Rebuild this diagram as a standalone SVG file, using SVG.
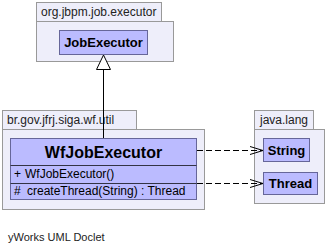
<svg xmlns="http://www.w3.org/2000/svg" width="330" height="249" viewBox="0 0 330 249">
  <style>
    .pkg { fill: #eeeefa; stroke: #999999; stroke-width: 1; }
    .cls { fill: #bbbbff; stroke: #666699; stroke-width: 1; }
    .sep { stroke: #333344; stroke-width: 1; }
    .ptxt { font-family: "Liberation Sans", Arial, sans-serif; font-size: 12px; fill: #222222; }
    .cname { font-family: "Liberation Sans", Arial, sans-serif; font-size: 13px; font-weight: bold; fill: #000000; text-anchor: middle; }
    .big { font-size: 16px; }
    .op { font-family: "Liberation Sans", Arial, sans-serif; font-size: 12px; fill: #000000; }
    .dep { fill: none; stroke: #000000; stroke-width: 1; stroke-dasharray: 6 3; }
    .head { fill: none; stroke: #000000; stroke-width: 1; }
  </style>

  <!-- package org.jbpm.job.executor -->
  <g id="pkg-org-jbpm-job-executor">
    <rect class="pkg" x="36.5" y="2.5" width="125" height="19"/>
    <rect class="pkg" x="36.5" y="21.5" width="137" height="40"/>
    <text class="ptxt" x="41" y="16">org.jbpm.job.executor</text>
  </g>
  <g id="JobExecutor">
    <rect class="cls" x="59.5" y="30.5" width="88" height="24"/>
    <text class="cname" x="103.5" y="47">JobExecutor</text>
  </g>

  <!-- package br.gov.jfrj.siga.wf.util -->
  <g id="pkg-br-gov-jfrj-siga-wf-util">
    <rect class="pkg" x="2.5" y="110.5" width="134" height="19"/>
    <rect class="pkg" x="2.5" y="129.5" width="202" height="80"/>
    <text class="ptxt" x="7" y="124">br.gov.jfrj.siga.wf.util</text>
  </g>
  <g id="WfJobExecutor">
    <rect class="cls" x="10.5" y="138.5" width="186" height="61"/>
    <line class="sep" x1="10.5" y1="165.5" x2="196.5" y2="165.5"/>
    <line class="sep" x1="10.5" y1="183.5" x2="196.5" y2="183.5"/>
    <text class="cname big" x="103.5" y="158">WfJobExecutor</text>
    <text class="op" x="14" y="178">+</text>
    <text class="op" x="25" y="178">WfJobExecutor()</text>
    <text class="op" x="14" y="195">#</text>
    <text class="op" x="27" y="195">createThread(String) : Thread</text>
  </g>

  <!-- package java.lang -->
  <g id="pkg-java-lang">
    <rect class="pkg" x="254.5" y="110.5" width="59" height="19"/>
    <rect class="pkg" x="254.5" y="129.5" width="70" height="74"/>
    <text class="ptxt" x="260" y="124">java.lang</text>
  </g>
  <g id="String">
    <rect class="cls" x="263.5" y="138.5" width="46" height="23"/>
    <text class="cname" x="286.5" y="155">String</text>
  </g>
  <g id="Thread">
    <rect class="cls" x="263.5" y="172.5" width="54" height="22"/>
    <text class="cname" x="290.5" y="188">Thread</text>
  </g>

  <!-- connectors -->
  <g id="connectors">
    <!-- generalization WfJobExecutor -> JobExecutor -->
    <line class="head" x1="103.5" y1="69.5" x2="103.5" y2="138"/>
    <polygon points="103.5,55 96.5,69.5 110.5,69.5" fill="#ffffff" stroke="#000000" stroke-width="1"/>
    <!-- dependency -> String -->
    <line class="dep" x1="197" y1="150.5" x2="262" y2="150.5"/>
    <polyline class="head" points="250,146.5 263,150.5 250,154.5"/>
    <!-- dependency -> Thread -->
    <line class="dep" x1="197" y1="183.5" x2="262" y2="183.5"/>
    <polyline class="head" points="250,179.5 263,183.5 250,187.5"/>
  </g>

  <text class="ptxt" x="8" y="241" style="font-size:11px" fill="#000000">yWorks UML Doclet</text>
</svg>
